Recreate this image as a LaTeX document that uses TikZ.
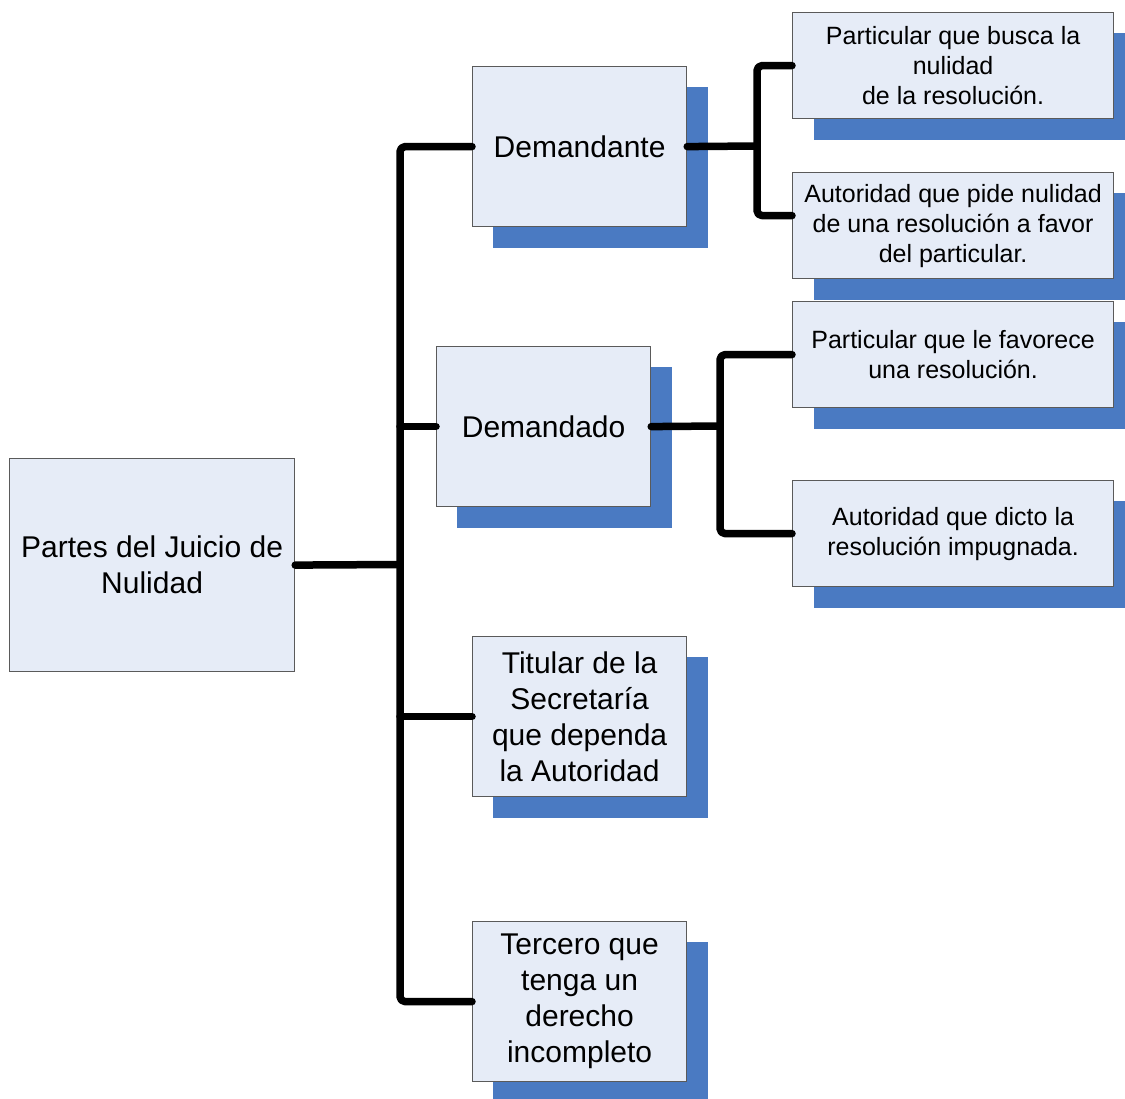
\documentclass[tikz,border=0pt]{standalone}
\usepackage{fontspec}
\setmainfont{Liberation Sans}
\definecolor{boxfill}{HTML}{E6ECF7}
\definecolor{boxline}{HTML}{5A5A5A}
\definecolor{shade}{HTML}{4A7AC2}
\begin{document}
\begin{tikzpicture}[x=1pt,y=-1pt,
  box/.style={draw=boxline,fill=boxfill,line width=1.2pt,inner sep=0pt,
    anchor=north west,align=center,font=\fontsize{30}{36}\selectfont},
  bigbox/.style={box,minimum width=214pt,minimum height=160pt},
  leafbox/.style={box,minimum width=321pt,minimum height=106pt,
    font=\fontsize{25}{30}\selectfont},
  shadowfill/.style={fill=shade},
  conn/.style={draw=black,line width=7.5pt,line cap=round,line join=round,rounded corners=5pt}]
\useasboundingbox (0,0) rectangle (1125,1099);
\clip (0,0) rectangle (1125,1099);
% drop shadows
\fill[shadowfill] (493,87) rectangle ++(215,161);
\fill[shadowfill] (457,367) rectangle ++(215,161);
\fill[shadowfill] (493,657) rectangle ++(215,161);
\fill[shadowfill] (493,942) rectangle ++(215,161);
\fill[shadowfill] (814,33) rectangle ++(321,107);
\fill[shadowfill] (814,193) rectangle ++(321,107);
\fill[shadowfill] (814,322) rectangle ++(321,107);
\fill[shadowfill] (814,501) rectangle ++(321,107);
% boxes
\node[box,minimum width=285pt,minimum height=213pt] (root) at (9,458) {Partes del Juicio de\\Nulidad};
\node[bigbox] (dem) at (472,66) {Demandante};
\node[bigbox] (dmd) at (436,346) {Demandado};
\node[bigbox] (tit) at (472,636) {Titular de la\\Secretaría\\que dependa\\la Autoridad};
\node[bigbox] (ter) at (472,921) {Tercero que\\tenga un\\derecho\\incompleto};
\node[leafbox] (p1) at (792,12) {Particular que busca la\\nulidad\\de la resolución.};
\node[leafbox] (a1) at (792,172) {Autoridad que pide nulidad\\de una resolución a favor\\del particular.};
\node[leafbox] (p2) at (792,301) {Particular que le favorece\\una resolución.};
\node[leafbox] (a2) at (792,480) {Autoridad que dicto la\\resolución impugnada.};
% junction points
\coordinate (tr) at (400,564.5);
\coordinate (s1) at (757,146);
\coordinate (s2) at (720,426);
% connectors
\draw[conn] (dem.west) -| (tr) |- (ter.west);
\draw[conn] (root.east) -- (tr);
\draw[conn] (dmd.west) -- (dmd.west -| tr);
\draw[conn] (tit.west) -- (tit.west -| tr);
\draw[conn] (p1.west) -| (s1) |- ([yshift=10pt]a1.west);
\draw[conn] (dem.east) -- (s1);
\draw[conn] (p2.west) -| (s2) |- (a2.west);
\draw[conn] (dmd.east) -- (s2);
\end{tikzpicture}
\end{document}
